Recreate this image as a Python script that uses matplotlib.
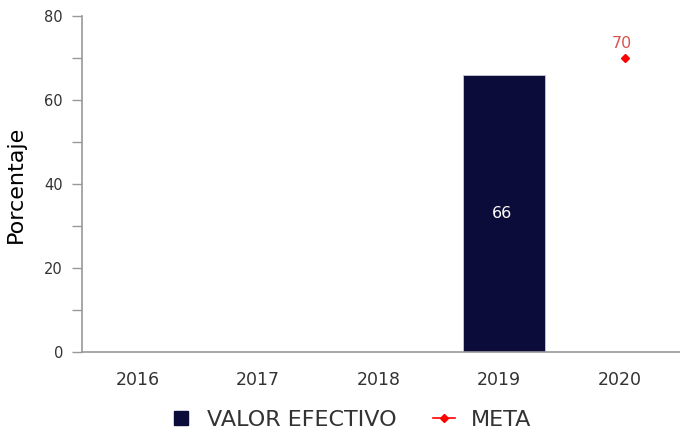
import numpy as np
import matplotlib.pyplot as plt
from matplotlib.lines import Line2D

plt.rcParams['font.family'] = ['DejaVu Sans']

# datos
anios = ['2016', '2017', '2018', '2019', '2020']
valor_efectivo = [np.nan, np.nan, np.nan, 66, np.nan]
meta = [np.nan, np.nan, np.nan, np.nan, 70]

azul = '#0b0c3a'
rojo = '#ff0000'
gris = '#999999'
texto = '#333333'

fig = plt.figure(figsize=(6.8, 4.37), dpi=100)
ax = fig.add_axes([0.1206, 0.1945, 0.8794, 0.769])

x = np.arange(len(anios))
ax.bar(x + 0.04, valor_efectivo, width=0.68, color=azul,
       edgecolor='#c8c8d8', linewidth=0.6)
for xi, v in zip(x, valor_efectivo):
    if not np.isnan(v):
        ax.text(xi + 0.02, v / 2, f'{v:g}', color='white', ha='center',
                va='center', fontsize=11.5)

ax.plot(x + 0.04, meta, color=rojo, marker='D', markersize=4.5, linestyle='none')
for xi, v in zip(x, meta):
    if not np.isnan(v):
        ax.text(xi + 0.02, v + 2.4, f'{v:g}', color='#d9534f', ha='center',
                va='baseline', fontsize=11.5)

ax.set_xlim(-0.46, 4.5)
ax.set_ylim(0, 80)
ax.set_xticks(x)
ax.set_xticklabels(anios)
ax.set_yticks([0, 20, 40, 60, 80])
ax.set_yticks([10, 30, 50, 70], minor=True)

for s in ['top', 'right']:
    ax.spines[s].set_visible(False)
for s in ['left', 'bottom']:
    ax.spines[s].set_color(gris)
    ax.spines[s].set_linewidth(1.2)

ax.tick_params(axis='y', which='both', length=7.2, color=gris, width=1,
               labelsize=10.5, labelcolor=texto, pad=6.5)
ax.tick_params(axis='x', length=0, labelsize=12.5, labelcolor=texto, pad=14)
ax.set_ylabel('Porcentaje', fontsize=16, color='black')
ax.yaxis.set_label_coords(-0.094, 0.5)

handles = [
    Line2D([], [], color=azul, marker='s', linestyle='none', markersize=10),
    Line2D([], [], color=rojo, marker='D', markersize=4.5, linewidth=1.2),
]
fig.legend(handles, ['VALOR EFECTIVO', 'META'], loc='center',
           bbox_to_anchor=(0.515, 0.039), ncol=2, frameon=False,
           fontsize=16, handlelength=1.0, handletextpad=0.7,
           columnspacing=1.6, labelcolor=texto)

plt.savefig('out.png', dpi=100)
